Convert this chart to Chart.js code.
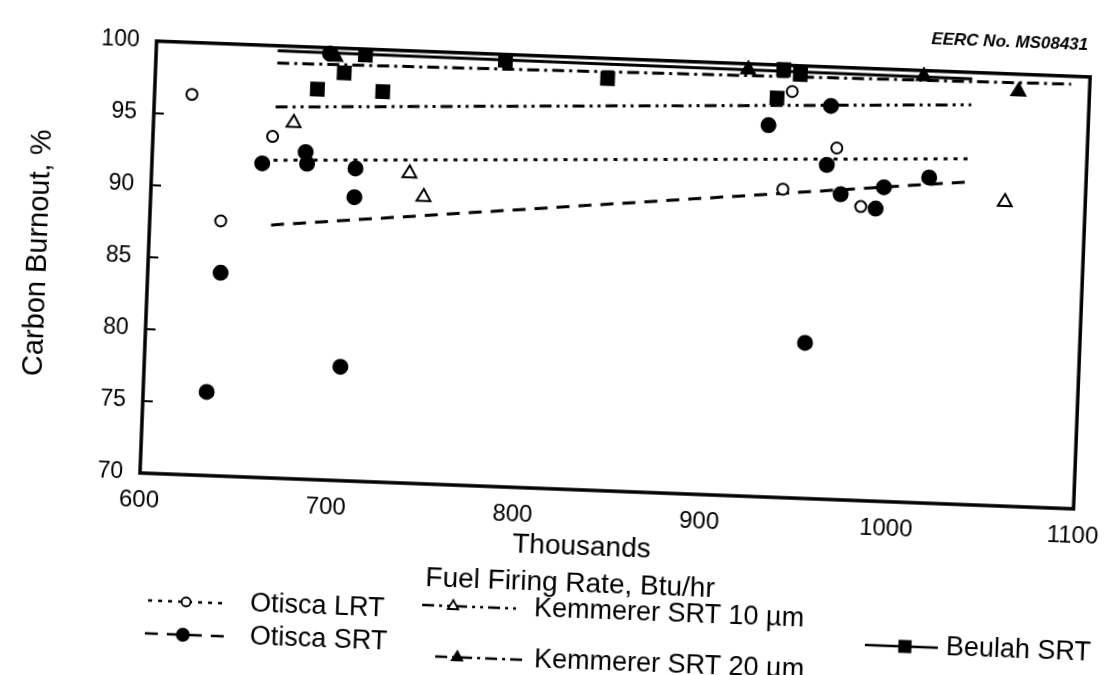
<!DOCTYPE html>
<html lang="en">
  <head>
    <meta charset="utf-8" />
    <title>Carbon burnout vs fuel firing rate</title>
    <style>
      * {
        margin: 0;
        padding: 0;
      }
      body {
        width: 1113px;
        height: 675px;
        overflow: hidden;
        background: #fff;
      }
      /* the scanned page sits a little crooked */
      #paper {
        position: absolute;
        left: 0;
        top: 0;
        transform-origin: 140px 473px;
        transform: rotate(2.2deg);
      }
    </style>
  </head>
  <body>
    <canvas id="paper" width="1113" height="675"></canvas>
    <script src="https://cdn.jsdelivr.net/npm/chart.js"></script>
    <script>
      // data (Btu/hr in thousands, % burnout)
      const lrtX = [620, 638, 664, 941, 966, 938, 980];
      const lrtY = [96.4, 87.7, 93.7, 98.2, 94.4, 91.4, 90.4];

      const srtX = [659, 682, 683, 709, 709, 639, 705, 634, 929, 962, 961, 969, 988, 992, 1016, 953, 693];
      const srtY = [91.8, 92.7, 91.9, 91.7, 89.7, 84.1, 77.9, 75.8, 95.8, 97.3, 93.2, 91.2, 90.3, 91.8, 92.6, 80.8, 99.6];

      const k10X = [675, 738, 746, 1057];
      const k10Y = [94.7, 91.5, 89.9, 91.1];

      const k20X = [696, 917, 1011, 1062];
      const k20Y = [99.4, 99.6, 99.6, 98.8];

      const beulahX = [687, 722, 701, 712, 842, 933, 945, 936, 787];
      const beulahY = [97.1, 97.1, 98.3, 99.6, 98.6, 97.7, 99.4, 99.7, 99.6];

      // fitted lines: end points
      const fitX = [665, 1037];
      const lrtFitY = [92.05, 94.0];
      const srtFitY = [87.55, 92.4];
      const k10FitY = [95.75, 97.75];
      const k20FitX = [665, 1090];
      const k20FitY = [98.8, 99.45];
      const beulahFitY = [99.65, 99.55];

      const xTicks = [600, 700, 800, 900, 1000, 1100];
      const yTicks = [70, 75, 80, 85, 90, 95, 100];
      const xTitle = ['Thousands', 'Fuel Firing Rate, Btu/hr'];
      const yTitle = 'Carbon Burnout, %';
      const stamp = 'EERC No. MS08431';

      const FONT = '"Liberation Sans", Arial, Helvetica, sans-serif';
      Chart.defaults.font.family = FONT;
      Chart.defaults.color = '#000';

      const toXY = (xs, ys) => xs.map((x, i) => ({ x: x, y: ys[i] }));

      const dotted = [4, 6];
      const dashed = [13, 9];
      const dashDotDot = [12, 5, 3, 5, 3, 5];
      const dashDot = [12, 5, 3, 5];

      function fitLine(label, xs, ys, dash) {
        return {
          label: label,
          data: toXY(xs, ys),
          showLine: true,
          borderColor: '#000',
          borderWidth: 3,
          borderDash: dash,
          pointRadius: 0,
          order: 2,
          clip: false,
        };
      }

      function marks(label, xs, ys, style, radius, filled) {
        return {
          label: label,
          data: toXY(xs, ys),
          showLine: false,
          pointStyle: style,
          pointRadius: radius,
          pointBackgroundColor: filled ? '#000' : '#fff',
          pointBorderColor: '#000',
          pointBorderWidth: 2,
          order: 1,
          clip: false,
        };
      }

      // legend entries as they sit on the page (unrotated frame)
      const legendItems = [
        { text: 'Otisca LRT', x1: 153, x2: 233, mx: 191, tx: 255, y: 600, dash: dotted, style: 'circle', r: 4.5, filled: false },
        { text: 'Otisca SRT', x1: 151, x2: 237, mx: 189, tx: 256, y: 633, dash: dashed, style: 'circle', r: 6, filled: true },
        { text: 'Kemmerer SRT 10 \u00b5m', x1: 427, x2: 523, mx: 458, tx: 539, y: 594, dash: dashDotDot, style: 'triangle', r: 6, filled: false },
        { text: 'Kemmerer SRT 20 \u00b5m', x1: 442, x2: 534, mx: 464, tx: 541, y: 645, dash: dashDot, style: 'triangle', r: 6, filled: true },
        { text: 'Beulah SRT', x1: 871, x2: 944, mx: 911, tx: 952, y: 617, dash: [], style: 'rect', r: 8, filled: true },
      ];

      const paperFrame = {
        id: 'paperFrame',
        afterDraw(chart) {
          const { ctx, chartArea: a } = chart;
          ctx.save();
          ctx.strokeStyle = '#000';
          ctx.fillStyle = '#000';
          ctx.lineWidth = 3.5;
          ctx.strokeRect(a.left, a.top, a.right - a.left, a.bottom - a.top);

          // x axis title, two lines, a little left of centre on the scan
          ctx.textAlign = 'center';
          ctx.textBaseline = 'middle';
          ctx.font = '28px ' + FONT;
          ctx.fillText(xTitle[0], 584, 530);
          ctx.fillText(xTitle[1], 574, 567);

          ctx.textAlign = 'right';
          ctx.font = 'italic bold 17px ' + FONT;
          ctx.fillText(stamp, 1071, 9);

          // legend
          ctx.textAlign = 'left';
          ctx.font = '27px ' + FONT;
          legendItems.forEach((it) => {
            ctx.save();
            ctx.lineWidth = 2.5;
            ctx.setLineDash(it.dash);
            ctx.beginPath();
            ctx.moveTo(it.x1, it.y);
            ctx.lineTo(it.x2, it.y);
            ctx.stroke();
            ctx.restore();
            ctx.fillStyle = it.filled ? '#000' : '#fff';
            ctx.lineWidth = 1.8;
            Chart.helpers.drawPoint(ctx, { pointStyle: it.style, radius: it.r, rotation: 0, borderWidth: 1.8 }, it.mx, it.y);
            ctx.fillStyle = '#000';
            ctx.fillText(it.text, it.tx, it.y);
          });
          ctx.restore();
        },
      };

      const config = {
        type: 'scatter',
        data: {
          datasets: [
            fitLine('Otisca LRT fit', fitX, lrtFitY, dotted),
            fitLine('Otisca SRT fit', fitX, srtFitY, dashed),
            fitLine('Kemmerer SRT 10 fit', fitX, k10FitY, dashDotDot),
            fitLine('Kemmerer SRT 20 fit', k20FitX, k20FitY, dashDot),
            fitLine('Beulah SRT fit', fitX, beulahFitY, []),
            marks('Otisca LRT', lrtX, lrtY, 'circle', 5.5, false),
            marks('Otisca SRT', srtX, srtY, 'circle', 7, true),
            marks('Kemmerer SRT 10 \u00b5m', k10X, k10Y, 'triangle', 8, false),
            marks('Kemmerer SRT 20 \u00b5m', k20X, k20Y, 'triangle', 8, true),
            marks('Beulah SRT', beulahX, beulahY, 'rect', 9, true),
          ],
        },
        options: {
          responsive: false,
          animation: false,
          devicePixelRatio: 1,
          layout: { padding: { left: 0, top: 27, right: 30, bottom: 52 } },
          plugins: {
            legend: { display: false },
            tooltip: { enabled: false },
          },
          scales: {
            x: {
              type: 'linear',
              min: xTicks[0],
              max: xTicks[xTicks.length - 1],
              afterFit: (s) => {
                s.height = 150;
              },
              afterBuildTicks: (s) => {
                s.ticks = xTicks.map((v) => ({ value: v }));
              },
              ticks: { color: '#000', font: { size: 24 }, padding: 13, callback: (v) => String(v) },
              grid: { display: false, drawTicks: false },
              border: { display: false },
            },
            y: {
              type: 'linear',
              min: yTicks[0],
              max: yTicks[yTicks.length - 1],
              afterFit: (s) => {
                s.width = 140;
              },
              afterBuildTicks: (s) => {
                s.ticks = yTicks.map((v) => ({ value: v }));
              },
              ticks: { color: '#000', font: { size: 23 }, padding: 27, callback: (v) => String(v) },
              grid: { drawOnChartArea: false, drawTicks: true, tickLength: -10, color: '#000', lineWidth: 2 },
              border: { display: false },
              title: { display: true, text: yTitle, color: '#000', font: { size: 29 }, padding: { top: 13 } },
            },
          },
        },
        plugins: [paperFrame],
      };

      const myChart = new Chart(document.getElementById('paper'), config);
    </script>
  </body>
</html>
